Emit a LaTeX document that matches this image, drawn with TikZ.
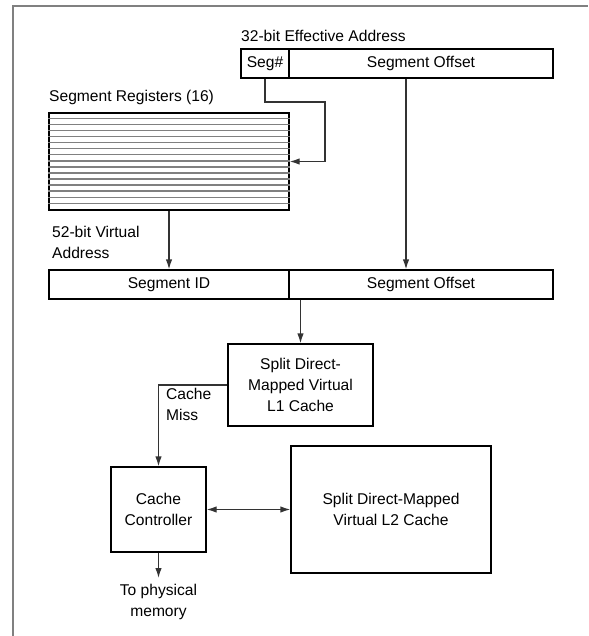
\documentclass[tikz,border=0pt]{standalone}
\usepackage{fontspec}
\setmainfont{Liberation Sans}
\usetikzlibrary{arrows.meta}

\begin{document}
\begin{tikzpicture}[x=1pt, y=-1pt,
    every node/.style={font=\fontsize{15.6}{21}\selectfont},
    field/.style={draw, line width=1.3pt, inner sep=0pt, minimum height=29pt},
    block/.style={draw, line width=1.3pt, inner sep=0pt, align=center},
    txt/.style={inner sep=0pt, align=left, anchor=west},
    regline/.style={black!50, line width=1.4pt},
    arrow/.style={-{Latex[length=10pt,width=6.5pt]}, line width=1.3pt, black!80}
]
\useasboundingbox (0,0) rectangle (588,636);

% Frame
\draw[black!50, line width=2pt] (12.7,636) -- (12.7,5.7) -- (588,5.7);

% Effective address
\node[txt] (ealbl) at (241,36) {32-bit Effective Address};
\node[field, minimum width=48pt] (segnum) at (265,63.5) {Seg\#};
\node[field, minimum width=264pt] (eaoff) at (421,63.5) {Segment Offset};

% Segment registers
\node[txt] (reglbl) at (49,97) {Segment Registers (16)};
\node[draw, line width=1.3pt, minimum width=240pt, minimum height=97pt, inner sep=0pt] (regs) at (169,161.5) {};
\foreach \i in {1,...,15}
    \draw[regline] ([yshift=-\i*6.0625pt]regs.north west) -- ([yshift=-\i*6.0625pt]regs.north east);

% Virtual address
\node[txt] (valbl) at (52,242.5) {52-bit Virtual\\Address};
\node[field, minimum width=240pt] (vaid) at (169,284.5) {Segment ID};
\node[field, minimum width=264pt] (vaoff) at (421,284.5) {Segment Offset};

% Caches
\node[block, minimum width=145pt, minimum height=82pt] (l1) at (300.5,385) {Split Direct-\\Mapped Virtual\\L1 Cache};
\node[block, minimum width=95pt, minimum height=85pt] (cc) at (158.5,509.5) {Cache\\Controller};
\node[block, minimum width=200pt, minimum height=127pt] (l2) at (391,509.5) {Split Direct-Mapped\\Virtual L2 Cache};
\node[txt] (misslbl) at (166,404.5) {Cache\\Miss};
\node[inner sep=0pt, align=center, anchor=north] (mem) at (158.5,584) {To physical\\memory};

% Arrows
\coordinate (bend) at (325,102);
\draw[arrow] (segnum.south) |- (bend) |- (regs.east);
\draw[arrow] ([xshift=-15pt]eaoff.south) -- ([xshift=-15pt]eaoff.south |- vaoff.north);
\draw[arrow] (regs.south) -- (vaid.north);
\draw[arrow] (l1.north |- vaoff.south) -- (l1.north);
\draw[arrow] (l1.west) -| (cc.north);
\draw[arrow, {Latex[length=10pt,width=6.5pt]}-{Latex[length=10pt,width=6.5pt]}] (cc.east) -- (l2.west |- cc.east);
\draw[arrow] (cc.south) -- ([yshift=6pt]mem.north);

\end{tikzpicture}
\end{document}
